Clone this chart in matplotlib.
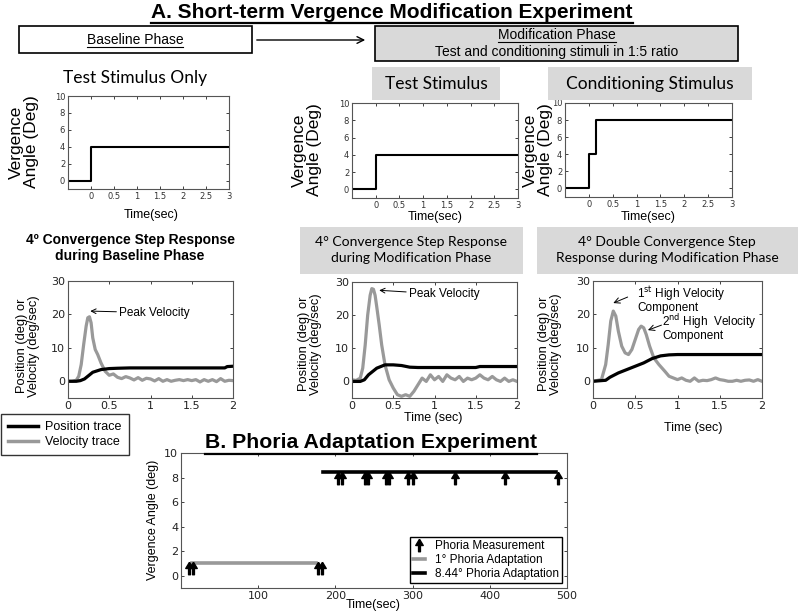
import numpy as np
import matplotlib
matplotlib.use('Agg')
import matplotlib.pyplot as plt
from matplotlib.patches import Rectangle
from matplotlib.lines import Line2D

W, H = 800, 613

# --- data -------------------------------------------------------------
step_t = [-0.5, 0, 0, 3]
step_test = [0, 0, 4, 4]
cond_t = [-0.5, 0, 0, 0.16, 0.16, 3]
cond_v = [0, 0, 4, 4, 8, 8]

base_vel_t = [0, 0.05, 0.1, 0.13, 0.16, 0.19, 0.22, 0.24, 0.26, 0.28, 0.3, 0.33, 0.36, 0.4,
              0.45, 0.5, 0.55, 0.6, 0.65, 0.7, 0.75, 0.8, 0.85, 0.9, 0.95, 1.0, 1.05, 1.1,
              1.15, 1.2, 1.25, 1.3, 1.35, 1.4, 1.45, 1.5, 1.55, 1.6, 1.65, 1.7, 1.75, 1.8,
              1.85, 1.9, 1.95, 2.0]
base_vel = [0, 0, 0.3, 1.5, 5, 11, 16.5, 19, 19.3, 17.5, 13, 9.5, 8, 5.5, 3, 1.8, 2.2, 1.2,
            0.8, 1.4, 1.0, 0.4, 1.1, 0.3, 0.9, 0.7, 0.1, 0.8, 0, 0.5, 0, 0.3, 0.5, 0.2, 0.5,
            0.2, 0.5, -0.2, 0.5, 0, 0.5, -0.1, 0.8, 0, 0.3, 0.2]
base_pos_t = [0, 0.1, 0.15, 0.2, 0.3, 0.4, 0.5, 0.6, 0.75, 1.9, 1.93, 2.0]
base_pos = [0, 0, 0.2, 0.7, 2.7, 3.5, 3.8, 3.9, 4.0, 4.0, 4.4, 4.5]

mod_vel_t = [0, 0.05, 0.1, 0.13, 0.16, 0.19, 0.22, 0.24, 0.26, 0.28, 0.3, 0.33, 0.36, 0.4,
             0.45, 0.5, 0.55, 0.6, 0.65, 0.7, 0.75, 0.8, 0.85, 0.9, 0.95, 1.0, 1.05, 1.1,
             1.15, 1.2, 1.25, 1.3, 1.35, 1.4, 1.45, 1.5, 1.55, 1.6, 1.65, 1.7, 1.75, 1.8,
             1.85, 1.9, 1.95, 2.0]
mod_vel = [0.5, 0.3, 1, 4, 11, 20, 26, 28, 27.8, 26, 22.5, 17, 11, 5, 0.5, -2, -4, -4.5, -4,
           -4.5, -3, -1, 1, 0, 2, 0.5, 1.5, 0, 2, 1, 0.5, 1.5, 0, 1, 0.5, 1, 2, 1, 0.5, 1.5,
           0.5, 0, 1, 0, 0.5, 0]
mod_pos_t = [0, 0.1, 0.15, 0.2, 0.3, 0.4, 0.5, 0.6, 0.7, 0.8, 1.5, 1.55, 2.0]
mod_pos = [0, 0, 0.5, 2, 4, 5, 5, 4.8, 4.3, 4.2, 4.2, 4.5, 4.5]

dbl_vel_t = [0, 0.1, 0.15, 0.18, 0.21, 0.24, 0.27, 0.3, 0.34, 0.38, 0.42, 0.46, 0.5, 0.54,
             0.57, 0.6, 0.63, 0.67, 0.72, 0.78, 0.85, 0.9, 0.95, 1.0, 1.05, 1.1, 1.15, 1.2,
             1.25, 1.3, 1.35, 1.4, 1.45, 1.5, 1.55, 1.6, 1.65, 1.7, 1.75, 1.8, 1.85, 1.9,
             1.95, 2.0]
dbl_vel = [0, 0.5, 5, 11, 18, 21, 19.5, 15, 10.5, 8.5, 8, 9.5, 12.5, 15.5, 16.5, 16, 14,
           10.5, 7, 5, 3, 1.5, 1, 0.5, 1, 0.3, 0, 1, 0, 0.3, 0.2, 0.5, 1, 0.5, 0.3, 0, 0,
           0.3, 0, 0.3, 0.4, 0, 0.5, 0]
dbl_pos_t = [0, 0.15, 0.2, 0.3, 0.4, 0.5, 0.6, 0.7, 0.8, 0.9, 1.0, 2.0]
dbl_pos = [0, 0.3, 1.2, 2.5, 3.5, 4.5, 5.5, 6.8, 7.6, 7.9, 8, 8]

adapt1_t = [14, 175]
adapt1_v = [1, 1]
adapt8_t = [184, 486]
adapt8_v = [8.44, 8.44]
meas_t = [10, 15.5, 178, 183, 204, 209, 238, 242, 265, 270, 294, 300, 355, 420, 488]
meas_v = [0.6, 0.6, 0.6, 0.6, 7.95, 7.95, 7.95, 7.95, 7.95, 7.95, 7.95, 7.95, 7.95, 7.95, 7.95]

GRAY = '#999999'
BOX = '#d9d9d9'
SANS = ['Liberation Sans', 'DejaVu Sans']
NARROW = ['Liberation Sans Narrow', 'Liberation Sans', 'DejaVu Sans']
CAL = ['Lato', 'DejaVu Sans']

fig = plt.figure(figsize=(W / 100, H / 100), dpi=100)


def fx(x):
    return x / W


def fy(y):
    return 1 - y / H


def add_ax(l, t, r, b):
    ax = fig.add_axes([fx(l), fy(b), (r - l) / W, (b - t) / H])
    ax.tick_params(direction='in', top=True, right=True, length=2.5, width=0.6,
                   colors='#222222', pad=2)
    for s in ax.spines.values():
        s.set_color('#555555')
        s.set_linewidth(0.8)
    return ax


def ftext(x, y, s, **kw):
    kw.setdefault('ha', 'center')
    kw.setdefault('va', 'center')
    return fig.text(fx(x), fy(y), s, **kw)


def underline(t, y, lw=1.0):
    r = fig.canvas.get_renderer()
    bb = t.get_window_extent(renderer=r)
    fig.add_artist(Line2D([bb.x0 / W, bb.x1 / W], [fy(y), fy(y)], color='black', lw=lw,
                          transform=fig.transFigure))


def box(l, t, r, b, fc, ec='none'):
    fig.add_artist(Rectangle((fx(l), fy(b)), (r - l) / W, (b - t) / H, facecolor=fc,
                             edgecolor=ec, lw=1.2, transform=fig.transFigure))


# --- header ---------------------------------------------------------------
t = ftext(392, 12, 'A. Short-term Vergence Modification Experiment', fontsize=15,
          fontweight='bold', family=NARROW)
underline(t, 23, lw=1.6)

box(19, 26, 252, 53, 'white', 'black')
box(375, 26, 738, 61, BOX, 'black')
t = ftext(135, 40, 'Baseline Phase', fontsize=10, family=NARROW)
underline(t, 47, lw=0.8)
fig.add_artist(matplotlib.patches.FancyArrowPatch((fx(254), fy(40)), (fx(368), fy(40)),
               arrowstyle='->', mutation_scale=12, lw=1, color='black',
               transform=fig.transFigure))
t = ftext(557, 35, 'Modification Phase', fontsize=10, family=NARROW)
underline(t, 42, lw=0.8)
ftext(557, 52, 'Test and conditioning stimuli in 1:5 ratio', fontsize=10, family=NARROW)

ftext(135, 78, 'Test Stimulus Only', fontsize=12.5, family=CAL)
box(372, 67, 500, 100, BOX)
ftext(436, 84, 'Test Stimulus', fontsize=12.5, family=CAL)
box(548, 67, 752, 100, BOX)
ftext(650, 84, 'Conditioning Stimulus', fontsize=12.5, family=CAL)

# --- stimulus step plots ---------------------------------------------------
for (l, t_, r, b), tt, vv, lab_x, lab_y, xl in [
        ((68, 96, 229, 189), step_t, step_test, 24, 142, (151, 215)),
        ((352, 103, 518, 198), step_t, step_test, 307, 150, (435, 217)),
        ((565, 103, 732, 197), cond_t, cond_v, 538, 150, (648, 217))]:
    ax = add_ax(l, t_, r, b)
    ax.plot(tt, vv, color='black', lw=1.5)
    ax.set_xlim(-0.5, 3)
    ax.set_ylim(-1, 10)
    ax.set_xticks([0, 0.5, 1, 1.5, 2, 2.5, 3])
    ax.set_xticklabels(['0', '0.5', '1', '1.5', '2', '2.5', '3'])
    ax.set_yticks([0, 2, 4, 6, 8, 10])
    ax.tick_params(labelsize=6, labelcolor='#333333')
    ftext(lab_x, lab_y, 'Vergence\nAngle (Deg)', fontsize=12.5, rotation=90, family=SANS,
          linespacing=0.95)
    ftext(xl[0], xl[1], 'Time(sec)', fontsize=9, family=SANS)

# --- response plot captions -----------------------------------------------
ftext(130, 248, '4º Convergence Step Response\nduring Baseline Phase', fontsize=10,
      fontweight='bold', family=SANS, linespacing=1.25)
box(300, 227, 523, 274, BOX)
ftext(411, 250, '4° Convergence Step Response\nduring Modification Phase', fontsize=10,
      family=CAL, linespacing=1.35)
box(537, 227, 798, 274, BOX)
ftext(667, 250, '4° Double Convergence Step\nResponse during Modification Phase',
      fontsize=10, family=CAL, linespacing=1.35)

# --- response plots ----------------------------------------------------------
resp = [((68, 281, 233, 398), base_pos_t, base_pos, base_vel_t, base_vel, (28, 346), None),
        ((352, 282, 517, 398), mod_pos_t, mod_pos, mod_vel_t, mod_vel, (310, 344), (433, 418)),
        ((593, 281, 762, 398), dbl_pos_t, dbl_pos, dbl_vel_t, dbl_vel, (550, 344), (693, 428))]
axes = []
for (l, t_, r, b), pt, pv, vt, vv, lab, xl in resp:
    ax = add_ax(l, t_, r, b)
    ax.plot(vt, vv, color=GRAY, lw=2.3, solid_joinstyle='round')
    ax.plot(pt, pv, color='black', lw=2.3)
    ax.set_xlim(0, 2)
    ax.set_ylim(-5, 30)
    ax.set_xticks([0, 0.5, 1, 1.5, 2])
    ax.set_xticklabels(['0', '0.5', '1', '1.5', '2'])
    ax.set_yticks([0, 10, 20, 30])
    ax.tick_params(labelsize=8)
    ftext(lab[0], lab[1], 'Position (deg) or\nVelocity (deg/sec)', fontsize=9.3, rotation=90,
          family=SANS, linespacing=1.0)
    if xl:
        ftext(xl[0], xl[1], 'Time (sec)', fontsize=9, family=SANS)
    axes.append(ax)

arr = dict(arrowstyle='->', lw=0.7, color='black', shrinkA=0, shrinkB=0)
axes[0].annotate('Peak Velocity', xy=(0.27, 21), xytext=(0.62, 20.5), fontsize=8.5,
                 va='center', family=SANS, arrowprops=arr)
axes[1].annotate('Peak Velocity', xy=(0.33, 27.5), xytext=(0.69, 26.3), fontsize=8.5,
                 va='center', family=SANS, arrowprops=arr)
axes[2].text(0.52, 24.6, '1$^{\\rm st}$ High Velocity\nComponent', fontsize=8.5,
             va='center', family=SANS, linespacing=0.95)
axes[2].annotate('', xy=(0.24, 23.4), xytext=(0.41, 25.2), arrowprops=arr)
axes[2].text(0.82, 16.2, '2$^{\\rm nd}$ High  Velocity\nComponent', fontsize=8.5,
             va='center', family=SANS, linespacing=0.95)
axes[2].annotate('', xy=(0.65, 15.3), xytext=(0.81, 16.8), arrowprops=arr)

handles = [Line2D([], [], color='black', lw=2.5), Line2D([], [], color=GRAY, lw=2.5)]
fig.legend(handles, ['Position trace', 'Velocity trace'], loc='upper left',
           bbox_to_anchor=(fx(1), fy(414)), prop={'family': SANS, 'size': 9},
           frameon=True, fancybox=False, edgecolor='black', borderaxespad=0,
           handlelength=2.4, borderpad=0.55, labelspacing=0.25, handletextpad=0.6)

# --- phoria plot ---------------------------------------------------------------
ax = add_ax(181, 453, 567, 588)
arrow_marker = [(0, 1), (-0.6, 0), (-0.15, 0), (-0.15, -1), (0.15, -1), (0.15, 0), (0.6, 0),
                (0, 1)]
ax.plot(adapt1_t, adapt1_v, color=GRAY, lw=2.6, label='1° Phoria Adaptation')
ax.plot(adapt8_t, adapt8_v, color='black', lw=2.6, label='8.44° Phoria Adaptation')
ax.plot(meas_t, meas_v, ls='none', marker=arrow_marker, ms=9, color='black',
        label='Phoria Measurement')
ax.set_xlim(0, 500)
ax.set_ylim(-1, 10)
ax.set_xticks([100, 200, 300, 400, 500])
ax.set_yticks([0, 2, 4, 6, 8, 10])
ax.tick_params(labelsize=8)
h, lb = ax.get_legend_handles_labels()
ax.legend([h[2], h[0], h[1]], [lb[2], lb[0], lb[1]], loc='lower right',
          prop={'family': SANS, 'size': 8.5}, fancybox=False, edgecolor='black',
          borderaxespad=0.4, borderpad=0.3, labelspacing=0.15, handlelength=1.0,
          handletextpad=0.8, framealpha=1)
ftext(153, 520, 'Vergence Angle (deg)', fontsize=9, rotation=90, family=SANS)
ftext(373, 605, 'Time(sec)', fontsize=9, family=SANS)
t = ftext(371, 443, 'B. Phoria Adaptation Experiment', fontsize=15.3, fontweight='bold',
          family=NARROW)
underline(t, 454, lw=1.6)

fig.savefig('out.png', dpi=100)
